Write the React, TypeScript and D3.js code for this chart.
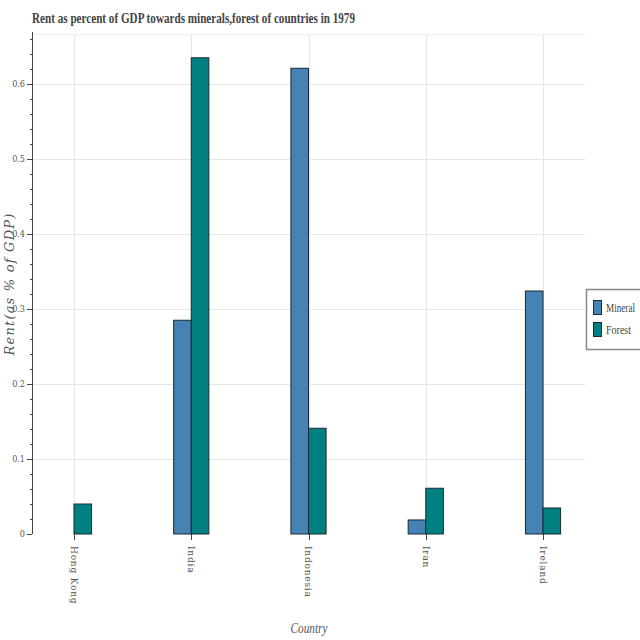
import React, { useEffect, useRef } from 'react';
import * as d3 from 'd3';

const countries = ['Hong Kong', 'India', 'Indonesia', 'Iran', 'Ireland'];
const mineral = [0, 0.285, 0.621, 0.0187, 0.324];
const forest = [0.04, 0.635, 0.141, 0.061, 0.0347];
const seriesNames = ['Mineral', 'Forest'];
const seriesColors = ['#4682b4', '#008080'];

const App: React.FC = () => {
	const svgRef = useRef<SVGSVGElement | null>(null);

	useEffect(() => {
		if (!svgRef.current) return;
		const width = 640;
		const height = 640;
		const left = 32;
		const right = 585;
		const top = 34;
		const bottom = 534;

		const svg = d3.select(svgRef.current);
		svg.selectAll('*').remove();
		svg.attr('width', width).attr('height', height);

		const x = d3.scalePoint<string>().domain(countries).range([left, right]).padding(0.358);
		const y = d3.scaleLinear().domain([0, 0.6667]).range([bottom, top]);
		const barW = x.step() * 0.15;

		// grid
		const grid = svg.append('g').attr('stroke', '#e6e6e6').attr('stroke-width', 1);
		grid
			.selectAll('line.h')
			.data(d3.range(1, 7).map((d) => d / 10))
			.join('line')
			.attr('x1', left)
			.attr('x2', right)
			.attr('y1', (d) => Math.round(y(d)) + 0.5)
			.attr('y2', (d) => Math.round(y(d)) + 0.5);
		grid
			.selectAll('line.v')
			.data(countries)
			.join('line')
			.attr('x1', (d) => Math.round(x(d)!) + 0.5)
			.attr('x2', (d) => Math.round(x(d)!) + 0.5)
			.attr('y1', top)
			.attr('y2', bottom);
		grid.append('line').attr('x1', left).attr('x2', right).attr('y1', top + 0.5).attr('y2', top + 0.5).attr('stroke', '#f0f0f0');

		// bars
		const series = [mineral, forest];
		series.forEach((vals, si) => {
			svg
				.append('g')
				.selectAll('rect')
				.data(countries.map((c, i) => ({ c, v: vals[i] })).filter((d) => d.v > 0))
				.join('rect')
				.attr('x', (d) => x(d.c)! + (si === 0 ? -barW : 0))
				.attr('y', (d) => y(d.v))
				.attr('width', barW)
				.attr('height', (d) => bottom - y(d.v))
				.attr('fill', seriesColors[si])
				.attr('stroke', '#1a2a30')
				.attr('stroke-width', 1);
		});

		// y axis
		const axisColor = '#444';
		const yAxis = svg.append('g');
		yAxis.append('line').attr('x1', left + 0.5).attr('x2', left + 0.5).attr('y1', top - 2).attr('y2', bottom).attr('stroke', axisColor);
		yAxis
			.selectAll('line.minor')
			.data(d3.range(0, 34).map((d) => d * 0.02))
			.join('line')
			.attr('x1', left - 2)
			.attr('x2', left)
			.attr('y1', (d) => Math.round(y(d)) + 0.5)
			.attr('y2', (d) => Math.round(y(d)) + 0.5)
			.attr('stroke', axisColor);
		const yt = d3.range(0, 7).map((d) => d / 10);
		yAxis
			.selectAll('line.major')
			.data(yt)
			.join('line')
			.attr('x1', left - 5)
			.attr('x2', left)
			.attr('y1', (d) => Math.round(y(d)) + 0.5)
			.attr('y2', (d) => Math.round(y(d)) + 0.5)
			.attr('stroke', axisColor);
		yAxis
			.selectAll('text')
			.data(yt)
			.join('text')
			.attr('x', left - 7)
			.attr('y', (d) => y(d))
			.attr('dy', '0.35em')
			.attr('text-anchor', 'end')
			.attr('font-family', 'DejaVu Serif Condensed, DejaVu Serif, serif')
			.attr('font-size', 9)
			.attr('fill', '#555')
			.text((d) => (d === 0 ? '0' : d3.format('.1f')(d)));

		svg
			.append('text')
			.attr('transform', `translate(14,${(top + bottom) / 2}) rotate(-90)`)
			.attr('text-anchor', 'middle')
			.attr('font-family', 'DejaVu Serif, serif')
			.attr('font-style', 'italic')
			.attr('font-size', 13)
			.attr('letter-spacing', 1.2)
			.attr('fill', '#555')
			.text('Rent(as % of GDP)');

		// x axis
		const xAxis = svg.append('g');
		xAxis.append('line').attr('x1', left).attr('x2', right).attr('y1', bottom + 0.5).attr('y2', bottom + 0.5).attr('stroke', axisColor);
		xAxis
			.selectAll('line')
			.data(countries)
			.join('line')
			.attr('x1', (d) => Math.round(x(d)!) + 0.5)
			.attr('x2', (d) => Math.round(x(d)!) + 0.5)
			.attr('y1', bottom)
			.attr('y2', bottom + 6)
			.attr('stroke', axisColor);
		xAxis
			.selectAll('text')
			.data(countries)
			.join('text')
			.attr('transform', (d) => `translate(${x(d)},${bottom + 12}) rotate(90)`)
			.attr('dy', '0.35em')
			.attr('text-anchor', 'start')
			.attr('font-family', 'DejaVu Serif, serif')
			.attr('font-size', 9)
			.attr('letter-spacing', 0.8)
			.attr('fill', '#555')
			.text((d) => d);

		svg
			.append('text')
			.attr('x', 309)
			.attr('y', 633)
			.attr('text-anchor', 'middle')
			.attr('font-family', 'Liberation Serif, serif')
			.attr('font-style', 'italic')
			.attr('font-size', 15)
			.attr('fill', '#555')
			.attr('textLength', 37)
			.attr('lengthAdjust', 'spacingAndGlyphs')
			.text('Country');

		// title
		svg
			.append('text')
			.attr('x', 32)
			.attr('y', 23)
			.attr('font-family', 'Liberation Serif, serif')
			.attr('font-weight', 'bold')
			.attr('font-size', 14)
			.attr('fill', '#444')
			.attr('textLength', 323)
			.attr('lengthAdjust', 'spacingAndGlyphs')
			.text('Rent as percent of GDP towards minerals,forest of countries in 1979');

		// legend
		const lg = svg.append('g');
		lg.append('rect')
			.attr('x', 586.5)
			.attr('y', 289.5)
			.attr('width', 70)
			.attr('height', 60)
			.attr('fill', 'white')
			.attr('stroke', '#888')
			.attr('stroke-width', 1.5);
		seriesNames.forEach((n, i) => {
			lg.append('rect')
				.attr('x', 593.5)
				.attr('y', 300.5 + i * 22)
				.attr('width', 8)
				.attr('height', 14)
				.attr('fill', seriesColors[i])
				.attr('stroke', '#1a2a30');
			lg.append('text')
				.attr('x', 606)
				.attr('y', 308 + i * 22)
				.attr('dy', '0.35em')
				.attr('font-family', 'Liberation Serif, serif')
				.attr('font-size', 12)
				.attr('fill', '#444')
				.attr('textLength', n === 'Mineral' ? 29 : 25)
				.attr('lengthAdjust', 'spacingAndGlyphs')
				.text(n);
		});
	}, []);

	return <svg ref={svgRef} style={{ position: 'absolute', left: 0, top: 0 }}></svg>;
};

export default App;
